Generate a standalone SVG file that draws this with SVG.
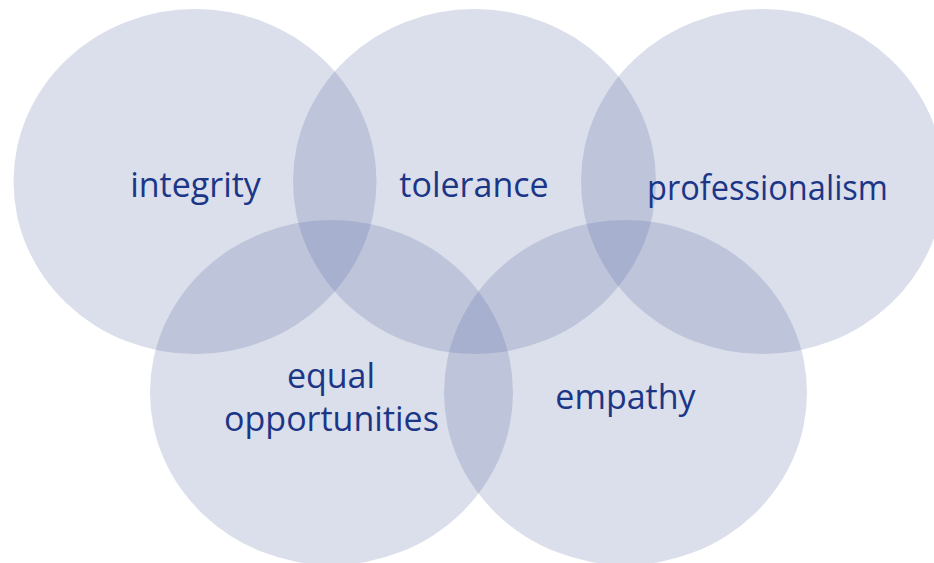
<svg xmlns="http://www.w3.org/2000/svg" width="934" height="563" viewBox="0 0 934 563">
<style>
.c{fill:#4b5f9b;fill-opacity:0.2}
.t{font-family:"Open Sans","Noto Sans",sans-serif;font-size:34px;fill:#1b3687;text-anchor:middle}
</style>
<rect width="934" height="563" fill="#ffffff"/>
<g id="integrity"><ellipse class="c" cx="195" cy="181.5" rx="181.5" ry="172.5"/><text class="t" x="195.5" y="197">integrity</text></g>
<g id="tolerance"><ellipse class="c" cx="474.5" cy="181.5" rx="181.5" ry="172.5"/><text class="t" x="474" y="197">tolerance</text></g>
<g id="professionalism"><ellipse class="c" cx="762.5" cy="181.5" rx="181.5" ry="172.5"/><text class="t" x="767.5" y="200" textLength="241" lengthAdjust="spacingAndGlyphs">professionalism</text></g>
<g id="equal-opportunities"><ellipse class="c" cx="331.5" cy="392.5" rx="181.5" ry="172.5"/><text class="t" x="331" y="388">equal</text><text class="t" x="331.5" y="431">opportunities</text></g>
<g id="empathy"><ellipse class="c" cx="625.5" cy="392.5" rx="181.5" ry="172.5"/><text class="t" x="625.5" y="409">empathy</text></g>
<g id="connectors"/>
</svg>
